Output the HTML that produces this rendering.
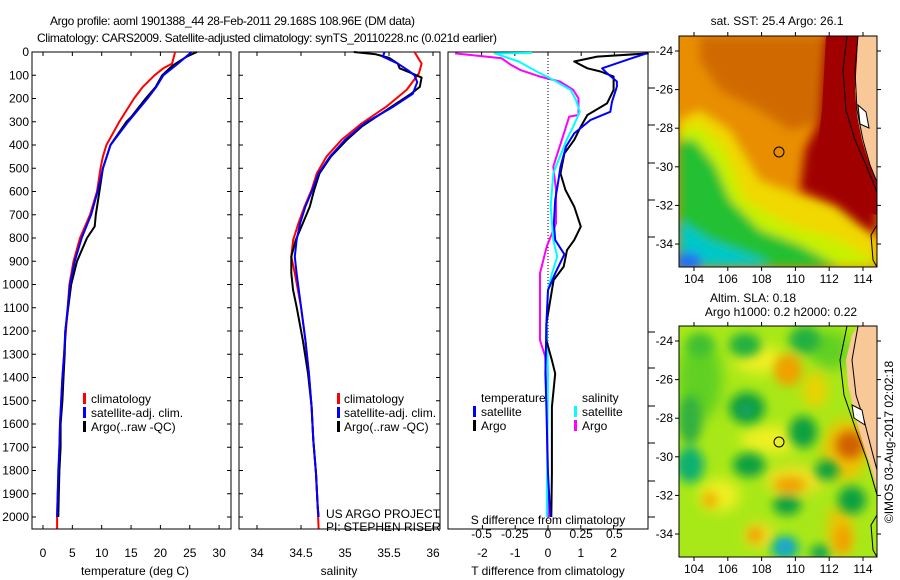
<!DOCTYPE html>
<html><head><meta charset="utf-8"><style>
html,body{margin:0;padding:0;background:#fff;}
svg{display:block;font-family:"Liberation Sans",sans-serif;}
text{font-size:12px;fill:#000;}
</style></head><body>
<svg id="chart" width="900" height="580" viewBox="0 0 900 580" xmlns="http://www.w3.org/2000/svg">
<defs>
<filter id="blur" x="-20%" y="-20%" width="140%" height="140%"><feGaussianBlur stdDeviation="5"/></filter>
<filter id="blur2" x="-20%" y="-20%" width="140%" height="140%"><feGaussianBlur stdDeviation="7"/></filter>
<clipPath id="clipTop"><rect x="679" y="36" width="198" height="231"/></clipPath>
<clipPath id="clipBot"><rect x="679" y="326" width="198" height="231"/></clipPath>
</defs>
<text x="50" y="25" textLength="365" lengthAdjust="spacing" style="font-size:12px">Argo profile: aoml 1901388_44 28-Feb-2011 29.168S 108.96E (DM data)</text>
<text x="37" y="42" textLength="460" lengthAdjust="spacing" style="font-size:12px">Climatology: CARS2009. Satellite-adjusted climatology: synTS_20110228.nc (0.021d earlier)</text>

<!-- SST map -->
<g>
<g clip-path="url(#clipTop)">
<rect x="679" y="36" width="198" height="231" fill="#e88e00"/>
<g filter="url(#blur)">
<path d="M700,36 L840,36 L830,120 L790,130 L760,110 L720,90 L700,60Z" fill="#d06a00"/>
<path d="M679,120 L700,110 L730,130 L760,180 L800,195 L850,205 L877,240 L877,267 L679,267Z" fill="#f0d800"/>
<path d="M679,130 L700,125 L725,150 L745,200 L790,225 L840,240 L877,262 L877,267 L679,267Z" fill="#c8f000"/>
<path d="M679,140 L695,140 L715,165 L730,200 L760,230 L800,245 L840,267 L679,267Z" fill="#20c030"/>
<path d="M679,220 L710,240 L760,258 L770,267 L679,267Z" fill="#00c8c8"/>
<ellipse cx="688" cy="262" rx="14" ry="10" fill="#2070f0"/>
</g>
<path d="M826,36 L877,36 L877,235 L860,225 L835,205 L800,190 L805,150 L820,120Z" fill="#a00000" filter="url(#blur)"/>
<path d="M826,36 L877,36 L877,215 L860,210 L830,190 L815,170 L822,110Z" fill="#a00000"/>
<path d="M858,36 L877,36 L877,182 L874,176 L868,160 L862,140 L857,115 L855,90 L857,60Z" fill="#f8c898"/>
<path d="M847,36 L843,70 L846,110 L855,140 L866,165 L877,192" fill="none" stroke="#000" stroke-width="1"/>
<path d="M858,36 L855,70 L857,110 L863,140 L870,165 L877,182" fill="none" stroke="#000" stroke-width="1"/>
<path d="M858,105 L866,112 L869,128 L860,124Z" fill="#fff" stroke="#000" stroke-width="1"/>
<path d="M877,225 L871,235 L873,260 L877,267" fill="none" stroke="#000" stroke-width="1"/>
</g>
<rect x="679" y="36" width="198" height="231" fill="none" stroke="#000" stroke-width="1"/>
<circle cx="779" cy="152" r="5" fill="none" stroke="#000" stroke-width="1"/>
</g>

<!-- SLA map -->
<g>
<g clip-path="url(#clipBot)">
<rect x="679" y="326" width="198" height="231" fill="#a8e818"/>
<g filter="url(#blur2)">
<ellipse cx="760" cy="360" rx="25" ry="14" fill="#f0f020"/>
<ellipse cx="770" cy="440" rx="30" ry="14" fill="#f0f020"/>
<ellipse cx="795" cy="480" rx="30" ry="14" fill="#f0e020"/>
<ellipse cx="720" cy="495" rx="20" ry="16" fill="#f0f020"/>
<ellipse cx="845" cy="450" rx="22" ry="30" fill="#f0c000"/>
<ellipse cx="840" cy="530" rx="12" ry="25" fill="#f0c000"/>
<ellipse cx="760" cy="535" rx="15" ry="12" fill="#f0e020"/>
<ellipse cx="815" cy="390" rx="12" ry="18" fill="#f0d000"/>
<ellipse cx="700" cy="380" rx="22" ry="40" fill="#60d020"/>
<ellipse cx="830" cy="350" rx="20" ry="20" fill="#60d020"/>
</g>
<g filter="url(#blur)">
<ellipse cx="788" cy="370" rx="14" ry="16" fill="#f0a000"/>
<ellipse cx="850" cy="445" rx="14" ry="14" fill="#d06000"/>
<ellipse cx="790" cy="485" rx="16" ry="8" fill="#f0a000"/>
<ellipse cx="710" cy="500" rx="8" ry="8" fill="#f0b000"/>
<ellipse cx="755" cy="535" rx="8" ry="8" fill="#f0a000"/>
<ellipse cx="843" cy="540" rx="8" ry="14" fill="#f0a000"/>
<ellipse cx="747" cy="408" rx="18" ry="16" fill="#10a040"/>
<ellipse cx="803" cy="432" rx="14" ry="16" fill="#10a040"/>
<ellipse cx="749" cy="465" rx="16" ry="12" fill="#10a040"/>
<ellipse cx="690" cy="465" rx="14" ry="18" fill="#10b070"/>
<ellipse cx="827" cy="470" rx="12" ry="10" fill="#10a040"/>
<ellipse cx="852" cy="500" rx="14" ry="14" fill="#10a040"/>
<ellipse cx="787" cy="505" rx="14" ry="10" fill="#10a040"/>
<ellipse cx="785" cy="548" rx="14" ry="12" fill="#10b0a0"/>
<ellipse cx="820" cy="553" rx="10" ry="8" fill="#10a050"/>
<ellipse cx="745" cy="345" rx="16" ry="12" fill="#20b040"/>
<ellipse cx="690" cy="420" rx="12" ry="25" fill="#30b040"/>
<ellipse cx="805" cy="340" rx="16" ry="14" fill="#20b040"/>
<ellipse cx="700" cy="345" rx="14" ry="12" fill="#40c030"/>
</g>
<ellipse cx="746" cy="410" rx="6" ry="6" fill="#20a070" filter="url(#blur)"/>
<ellipse cx="785" cy="546" rx="6" ry="6" fill="#30a0f0" filter="url(#blur)"/>
<path d="M858,326 L877,326 L877,490 L872,470 L862,440 L855,415 L848,385 L846,360 L852,335Z" fill="#f8c898"/>
<path d="M847,326 L840,360 L844,395 L856,430 L867,460 L877,495" fill="none" stroke="#000" stroke-width="1"/>
<path d="M858,326 L852,360 L856,395 L864,420 L873,455 L877,470" fill="none" stroke="#000" stroke-width="1"/>
<path d="M852,405 L862,410 L865,425 L854,418Z" fill="#fff" stroke="#000" stroke-width="1"/>
<path d="M877,515 L871,525 L873,550 L877,557" fill="none" stroke="#000" stroke-width="1"/>
</g>
<rect x="679" y="326" width="198" height="231" fill="none" stroke="#000" stroke-width="1"/>
<circle cx="779" cy="442" r="5" fill="none" stroke="#000" stroke-width="1"/>
</g>

<text x="777" y="25" text-anchor="middle">sat. SST: 25.4 Argo: 26.1</text>
<text x="753" y="302" text-anchor="middle">Altim. SLA: 0.18</text>
<text x="781" y="316" text-anchor="middle">Argo h1000: 0.2 h2000: 0.22</text>
<text transform="translate(893,442) rotate(-90)" text-anchor="middle">©IMOS 03-Aug-2017 02:02:18</text>

<g id="axes"></g>
<g id="series"></g>

<!-- legends -->
<g>
<rect x="83" y="393" width="3" height="11" fill="#f00"/><text x="91" y="403">climatology</text>
<rect x="83" y="407" width="3" height="11" fill="#00f"/><text x="91" y="417">satellite-adj. clim.</text>
<rect x="83" y="421" width="3" height="11" fill="#000"/><text x="91" y="431">Argo(..raw -QC)</text>
</g>
<g>
<rect x="337" y="393" width="3" height="11" fill="#f00"/><text x="344" y="403">climatology</text>
<rect x="337" y="407" width="3" height="11" fill="#00f"/><text x="344" y="417">satellite-adj. clim.</text>
<rect x="337" y="421" width="3" height="11" fill="#000"/><text x="344" y="431">Argo(..raw -QC)</text>
</g>
<text x="326" y="518">US ARGO PROJECT</text>
<text x="326" y="531">PI: STEPHEN RISER</text>
<g>
<text x="481" y="402">temperature</text>
<rect x="473" y="406" width="3" height="11" fill="#00f"/><text x="481" y="416">satellite</text>
<rect x="473" y="420" width="3" height="11" fill="#000"/><text x="481" y="430">Argo</text>
<text x="582" y="402">salinity</text>
<rect x="574" y="406" width="3" height="11" fill="#0ff"/><text x="582" y="416">satellite</text>
<rect x="574" y="420" width="3" height="11" fill="#f0f"/><text x="582" y="430">Argo</text>
</g>
</svg>
<script>
// ---- data ----
const tempClimDepth = [0,50,70,100,150,200,300,400,450,500,600,700,800,900,1000,1100,1200,1300,1400,1500,1600,1700,1800,1900,2000,2050];
const tempClim      = [22.5,22,20.5,19,17,15.5,13,10.8,10.2,9.8,9.2,8,6.3,5.2,4.5,4.2,3.9,3.6,3.3,3.1,2.9,2.8,2.7,2.5,2.4,2.4];
const tempSatDepth  = [0,50,100,150,200,300,400,500,600,700,800,900,1000,1100,1200,1300,1400,1500,1600,1700,1800,1900,2000];
const tempSat       = [25.3,23,20.5,19.3,17.8,14.5,11.5,10.2,9.3,8.2,6.6,5.4,4.6,4.2,3.8,3.6,3.3,3.1,2.9,2.8,2.6,2.5,2.4];
const tempArgoDepth = [0,20,40,60,100,150,200,280,300,400,500,600,700,750,800,900,1000,1100,1200,1300,1400,1500,1600,1700,1800,1900,2000];
const tempArgo      = [26.2,24.5,23.2,22,20.3,19.2,17.5,15,14.2,11.5,10.2,9.6,9,8.8,7.5,5.8,4.8,4.3,3.8,3.7,3.5,3.3,3.0,3.0,2.8,2.7,2.6];

const salClimDepth = [0,50,92,163,235,307,378,450,522,593,665,737,809,880,952,1095,1239,1382,1526,1669,1812,1956,2050];
const salClim      = [35.79,35.87,35.84,35.70,35.47,35.19,34.96,34.79,34.68,34.62,34.54,34.47,34.41,34.39,34.43,34.50,34.55,34.59,34.62,34.64,34.67,34.69,34.70];
const salSatDepth  = [0,20,50,80,100,130,180,235,307,378,450,522,593,665,737,809,880,952,1095,1239,1382,1526,1669,1812,1956,2000];
const salSat       = [35.45,35.43,35.6,35.72,35.79,35.82,35.77,35.55,35.22,35.0,34.83,34.70,34.63,34.55,34.49,34.45,34.43,34.45,34.50,34.55,34.59,34.62,34.64,34.67,34.69,34.70];
const salArgoDepth = [0,10,25,50,70,90,110,150,180,230,278,321,378,450,522,593,665,737,809,880,952,1024,1096,1239,1382,1526,1669,1812,1956,2000];
const salArgo      = [35.1,35.35,35.5,35.6,35.62,35.75,35.87,35.85,35.75,35.55,35.36,35.19,35.02,34.84,34.71,34.65,34.60,34.52,34.44,34.39,34.39,34.41,34.45,34.52,34.58,34.62,34.64,34.67,34.69,34.70];

const dTSatDepth  = [6,34,70,91,127,149,214,257,292,350,407,493,550,636,737,809,870,952,1024,1168,1383,1527,1812,2000];
const dTSat       = [3.0,2.4,1.65,1.8,2.1,2.1,1.95,1.9,1.3,0.8,0.55,0.38,0.32,0.22,0.18,0.22,0.5,0.22,0.0,-0.05,-0.08,-0.05,0.0,0.07];
const dTArgoDepth = [6,20,41,70,84,106,163,221,271,321,378,436,522,593,665,751,809,852,923,981,1067,1168,1240,1326,1383,1527,1812,2000];
const dTArgo      = [3.07,1.5,0.8,1.2,1.6,2.0,2.0,1.8,1.2,1.0,0.8,0.5,0.38,0.53,0.8,1.0,0.8,0.58,0.48,0.17,0.07,-0.05,-0.05,0.12,0.22,0.12,0.12,0.1];
const dSSatDepth  = [4,6,41,70,91,120,163,206,257,321,378,450,522,665,809,880,952,1024,1168,1383,2000];
const dSSat       = [-0.12,-0.4,-0.22,-0.13,-0.06,0.04,0.17,0.21,0.24,0.19,0.14,0.09,0.04,0.02,0.04,0.07,0.03,0.0,-0.01,0.0,-0.01];
const dSArgoDepth = [6,27,55,77,106,127,163,199,271,278,350,421,493,593,737,837,952,1096,1240,1311,1527,2000];
const dSArgo      = [-0.7,-0.35,-0.28,-0.21,-0.06,0.09,0.19,0.23,0.23,0.16,0.12,0.08,0.04,0.06,0.06,-0.01,-0.06,-0.06,-0.06,-0.02,-0.01,0.0];

const depthTicks = [0,100,200,300,400,500,600,700,800,900,1000,1100,1200,1300,1400,1500,1600,1700,1800,1900,2000];
const tempTicks = [0,5,10,15,20,25,30];
const salTicks = [34,34.5,35,35.5,36];
const salTickLabels = ["34","34.5","35","35.5","36"];
const dTTicks = [-2,-1,0,1,2];
const dSTicks = [-0.5,-0.25,0,0.25,0.5];
const dSTickLabels = ["-0.5","-0.25","0","0.25","0.5"];
const lonTicks = [104,106,108,110,112,114];
const latTicks = [-24,-26,-28,-30,-32,-34];

// ---- axis functions ----
const yD = d => 52 + d*0.2325;
const xT = t => 43 + t*5.87;
const xS = s => 257 + (s-34)*88;
const xDT = v => 548 + v*32.8;
const xDS = v => 548 + v*132.7;
const xLon = l => 694 + (l-104)*16.9;
const yLatTop = l => 51 + (-24-l)*19.3;
const yLatBot = l => 341 + (-24-l)*19.3;

const NS = "http://www.w3.org/2000/svg";
const axes = document.getElementById('axes');
const series = document.getElementById('series');
function mk(tag, parent, attrs){const e=document.createElementNS(NS,tag);for(const k in attrs)e.setAttribute(k,attrs[k]);parent.appendChild(e);return e;}
function txt(parent,x,y,s,anchor){const t=mk('text',parent,{x:x,y:y,'text-anchor':anchor||'middle'});t.textContent=s;return t;}

const panels=[[32,231,'temperature-panel'],[239,440,'salinity-panel'],[448,648,'difference-panel']];
panels.forEach(p=>{
  const r=mk('rect',axes,{x:p[0],y:52,width:p[1]-p[0],height:477,fill:'none',stroke:'#000','stroke-width':1});
  
  
});
depthTicks.forEach(d=>{
  const y=yD(d);
  const l=txt(axes,29,y+4,String(d),'end');
  
  
  mk('line',axes,{x1:32,x2:36,y1:y,y2:y,stroke:'#000'});
  mk('line',axes,{x1:227,x2:231,y1:y,y2:y,stroke:'#000'});
  mk('line',axes,{x1:239,x2:243,y1:y,y2:y,stroke:'#000'});
  mk('line',axes,{x1:436,x2:440,y1:y,y2:y,stroke:'#000'});
});
[52,88,125,163,200,237,332,368,406,443,481,517].forEach(y=>mk('line',axes,{x1:648,x2:655,y1:y,y2:y,stroke:'#000'}));
tempTicks.forEach(t=>{
  const x=xT(t);
  mk('line',axes,{x1:x,x2:x,y1:52,y2:56,stroke:'#000'});
  mk('line',axes,{x1:x,x2:x,y1:525,y2:529,stroke:'#000'});
  const l=txt(axes,x,557,String(t));
  
  
});
salTicks.forEach((s,i)=>{
  const x=xS(s);
  mk('line',axes,{x1:x,x2:x,y1:52,y2:56,stroke:'#000'});
  mk('line',axes,{x1:x,x2:x,y1:525,y2:529,stroke:'#000'});
  const l=txt(axes,x,557,salTickLabels[i]);
  
  
});
dTTicks.forEach(v=>{
  const x=xDT(v);
  mk('line',axes,{x1:x,x2:x,y1:525,y2:529,stroke:'#000'});
  const l=txt(axes,x,557,String(v));
  
  
});
dSTicks.forEach((v,i)=>{
  const x=xDS(v);
  mk('line',axes,{x1:x,x2:x,y1:52,y2:56,stroke:'#000'});
  const l=txt(axes,x,538,dSTickLabels[i]);
  
  
});
mk('line',axes,{x1:548,x2:548,y1:52,y2:529,stroke:'#000','stroke-dasharray':'1,2'});
let t;
t=txt(axes,135,575,'temperature (deg C)');


t=txt(axes,339,575,'salinity');


t=txt(axes,548,575,'T difference from climatology');


t=txt(axes,548,524,'S difference from climatology');


[[yLatTop,36,267],[yLatBot,326,557]].forEach(m=>{
  lonTicks.forEach(l=>{
    const x=xLon(l);
    mk('line',axes,{x1:x,x2:x,y1:m[1]-4,y2:m[1],stroke:'#000'});
    mk('line',axes,{x1:x,x2:x,y1:m[2],y2:m[2]+4,stroke:'#000'});
    const lb=txt(axes,x,m[2]+16,String(l));
    
    
  });
  latTicks.forEach(l=>{
    const y=m[0](l);
    mk('line',axes,{x1:675,x2:679,y1:y,y2:y,stroke:'#000'});
    mk('line',axes,{x1:877,x2:881,y1:y,y2:y,stroke:'#000'});
    const lb=txt(axes,673,y+4,String(l),'end');
    
    
  });
});

function line(xs,ds,xf,color,name,w){
  const pts=xs.map((v,i)=>xf(v).toFixed(1)+','+yD(ds[i]).toFixed(1)).join(' ');
  const pl=mk('polyline',series,{points:pts,fill:'none',stroke:color,'stroke-width':w||2,'stroke-linejoin':'round'});
  
  
}
line(tempClim,tempClimDepth,xT,'#f00','temperature-climatology-line');
line(tempArgo,tempArgoDepth,xT,'#000','temperature-argo-line');
line(tempSat,tempSatDepth,xT,'#00f','temperature-satellite-line');
line(salClim,salClimDepth,xS,'#f00','salinity-climatology-line');
line(salArgo,salArgoDepth,xS,'#000','salinity-argo-line');
line(salSat,salSatDepth,xS,'#00f','salinity-satellite-line');
line(dSArgo,dSArgoDepth,xDS,'#f0f','sdiff-argo-line');
line(dSSat,dSSatDepth,xDS,'#0ff','sdiff-satellite-line');
line(dTArgo,dTArgoDepth,xDT,'#000','tdiff-argo-line');
line(dTSat,dTSatDepth,xDT,'#00f','tdiff-satellite-line');
</script>
</body></html>
